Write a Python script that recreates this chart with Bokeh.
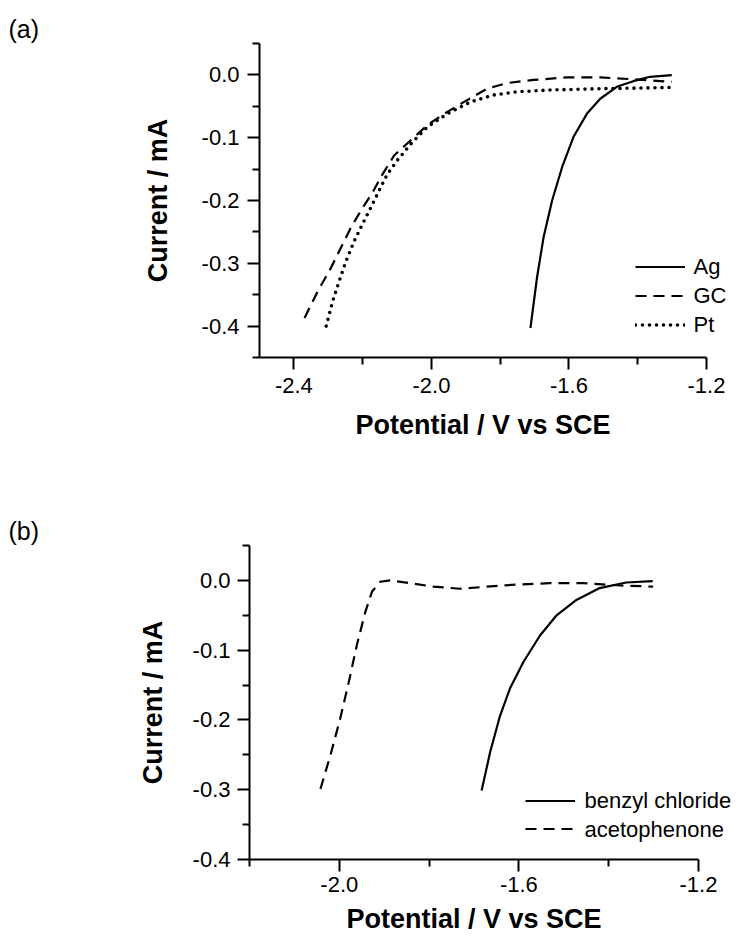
from bokeh.plotting import figure
from bokeh.models import Range1d, FixedTicker, Legend, LegendItem, LinearAxis
from bokeh.embed import file_html
from bokeh.resources import INLINE

FONT = "Liberation Sans"

# ---------------- Panel (a) data ----------------
ag_x = [-1.712, -1.693, -1.674, -1.649, -1.620, -1.587, -1.548, -1.509, -1.461, -1.413, -1.364, -1.301]
ag_y = [-0.403, -0.323, -0.259, -0.200, -0.147, -0.099, -0.062, -0.038, -0.019, -0.010, -0.003, -0.0005]

gc_x = [-2.369, -2.330, -2.292, -2.263, -2.234, -2.205, -2.171, -2.142, -2.108, -2.060, -2.012,
        -1.963, -1.905, -1.838, -1.780, -1.703, -1.606, -1.509, -1.413, -1.301]
gc_y = [-0.387, -0.344, -0.307, -0.275, -0.243, -0.216, -0.187, -0.158, -0.128, -0.104, -0.080,
        -0.062, -0.043, -0.022, -0.013, -0.008, -0.004, -0.004, -0.007, -0.011]

pt_x = [-2.306, -2.287, -2.268, -2.248, -2.224, -2.200, -2.176, -2.152, -2.128, -2.099, -2.060,
        -2.012, -1.954, -1.886, -1.819, -1.751, -1.654, -1.509, -1.297]
pt_y = [-0.400, -0.360, -0.328, -0.296, -0.264, -0.237, -0.211, -0.184, -0.158, -0.136, -0.110,
        -0.083, -0.062, -0.043, -0.032, -0.027, -0.024, -0.022, -0.020]

a_series = ["Ag", "GC", "Pt"]
a_xticks = [-2.4, -2.0, -1.6, -1.2]
a_xlabels = ["-2.4", "-2.0", "-1.6", "-1.2"]
a_xminor = [-2.2, -1.8, -1.4]
a_yticks = [0.0, -0.1, -0.2, -0.3, -0.4]
a_ylabels = ["0.0", "-0.1", "-0.2", "-0.3", "-0.4"]
a_yminor = [0.05, -0.05, -0.15, -0.25, -0.35, -0.45]

# ---------------- Panel (b) data ----------------
bc_x = [-1.683, -1.664, -1.642, -1.620, -1.590, -1.553, -1.516, -1.472, -1.420, -1.361, -1.302]
bc_y = [-0.301, -0.246, -0.194, -0.155, -0.117, -0.079, -0.050, -0.028, -0.011, -0.003, -0.001]

ac_x = [-2.042, -2.020, -1.998, -1.979, -1.961, -1.942, -1.927, -1.909, -1.887, -1.842, -1.790,
        -1.731, -1.672, -1.605, -1.531, -1.457, -1.383, -1.301]
ac_y = [-0.299, -0.251, -0.198, -0.146, -0.093, -0.045, -0.016, -0.002, 0.000, -0.004, -0.009,
        -0.012, -0.009, -0.006, -0.004, -0.004, -0.007, -0.009]

b_series = ["benzyl chloride", "acetophenone"]
b_xticks = [-2.0, -1.6, -1.2]
b_xlabels = ["-2.0", "-1.6", "-1.2"]
b_xminor = [-2.2, -1.8, -1.4]
b_yticks = [0.0, -0.1, -0.2, -0.3, -0.4]
b_ylabels = ["0.0", "-0.1", "-0.2", "-0.3", "-0.4"]
b_yminor = [0.05, -0.05, -0.15, -0.25, -0.35]

X_TITLE = "Potential / V vs SCE"
Y_TITLE = "Current / mA"

# legend-row anchor positions (layout only, in the panel's y units)
A_LEG_ROWS = [-0.3050, -0.3510, -0.3970]
B_LEG_ROWS = [-0.3157, -0.3563]


def style_axes(p, xticks, xlabels, xminor, yticks, ylabels, yminor,
               x_std, x_lab_std, y_std, y_lab_std):
    p.xgrid.visible = False
    p.ygrid.visible = False
    p.outline_line_color = None
    p.background_fill_color = "white"
    p.border_fill_color = "white"
    p.xaxis.ticker = FixedTicker(ticks=xticks, minor_ticks=xminor)
    p.yaxis.ticker = FixedTicker(ticks=yticks, minor_ticks=yminor)
    p.xaxis.major_label_overrides = dict(zip(xticks, xlabels))
    p.yaxis.major_label_overrides = dict(zip(yticks, ylabels))
    for ax in (p.xaxis, p.yaxis):
        ax.axis_line_width = 2
        ax.axis_line_color = "black"
        ax.major_tick_line_width = 2
        ax.minor_tick_line_width = 2
        ax.major_tick_line_color = "black"
        ax.minor_tick_line_color = "black"
        ax.major_tick_out = 12
        ax.major_tick_in = 0
        ax.minor_tick_out = 7
        ax.minor_tick_in = 0
        ax.major_label_text_font = FONT
        ax.major_label_text_font_size = "22px"
        ax.major_label_text_color = "black"
        ax.axis_label_text_font = FONT
        ax.axis_label_text_font_style = "bold"
        ax.axis_label_text_font_size = "27px"
        ax.axis_label_text_color = "black"
    p.xaxis.axis_label = X_TITLE
    p.yaxis.axis_label = Y_TITLE
    p.xaxis.major_label_standoff = x_std
    p.xaxis.axis_label_standoff = x_lab_std
    p.yaxis.major_label_standoff = y_std
    p.yaxis.axis_label_standoff = y_lab_std


def add_legend(p, renderers, names, rows, loc, spacing, text_standoff):
    # line samples through a Legend
    leg = Legend(items=[LegendItem(label=" ", renderers=[r]) for r in renderers], location=loc)
    leg.background_fill_alpha = 0
    leg.border_line_alpha = 0
    leg.padding = 0
    leg.margin = 0
    leg.spacing = spacing
    leg.label_standoff = 0
    leg.glyph_width = 50
    leg.glyph_height = 25
    leg.label_height = 25
    leg.label_width = 1
    leg.label_text_font_size = "22px"
    p.add_layout(leg)
    # legend names as labels of a bare right-hand axis (drawn outside the frame clip)
    ax = LinearAxis(ticker=FixedTicker(ticks=rows, minor_ticks=[]),
                    major_label_overrides=dict(zip(rows, names)))
    ax.axis_line_color = None
    ax.major_tick_line_color = None
    ax.minor_tick_line_color = None
    ax.major_tick_out = 0
    ax.major_tick_in = 0
    ax.minor_tick_out = 0
    ax.minor_tick_in = 0
    ax.major_label_standoff = text_standoff
    ax.major_label_text_font = FONT
    ax.major_label_text_font_size = "22px"
    ax.major_label_text_color = "black"
    p.add_layout(ax, "right")


def panel_tag(p, text, offset, standoff):
    p.title.text = text
    p.title.align = "left"
    p.title.offset = offset
    p.title.standoff = standoff
    p.title.text_font = FONT
    p.title.text_font_style = "normal"
    p.title.text_font_size = "25px"
    p.title.text_color = "black"


W = 740

# ---------------- figure (a) ----------------
pa = figure(width=W, height=457, output_backend="svg", toolbar_location=None,
            x_range=Range1d(-2.5, -1.2), y_range=Range1d(-0.45, 0.05),
            min_border_left=259, min_border_right=34, min_border_top=43, min_border_bottom=100)
style_axes(pa, a_xticks, a_xlabels, a_xminor, a_yticks, a_ylabels, a_yminor, 8, 14, 8, 26)

r_ag = pa.line(ag_x, ag_y, line_color="black", line_width=2.2)
r_gc = pa.line(gc_x, gc_y, line_color="black", line_width=2.2, line_dash="11 7")
r_pt = pa.line(pt_x, pt_y, line_color="black", line_width=3.6, line_dash="0 7", line_cap="round")
add_legend(pa, [r_ag, r_gc, r_pt], a_series, A_LEG_ROWS, (376, 20), 4, -13)
panel_tag(pa, "(a)", -251, 2)

# ---------------- figure (b) ----------------
pb = figure(width=W, height=486, output_backend="svg", toolbar_location=None,
            x_range=Range1d(-2.2, -1.2), y_range=Range1d(-0.4, 0.05),
            min_border_left=249, min_border_right=42, min_border_top=88, min_border_bottom=84)
style_axes(pb, b_xticks, b_xlabels, b_xminor, b_yticks, b_ylabels, b_yminor, 5, 9, 7, 22)

r_bc = pb.line(bc_x, bc_y, line_color="black", line_width=2.2)
r_ac = pb.line(ac_x, ac_y, line_color="black", line_width=2.2, line_dash="11 7")
add_legend(pb, [r_bc, r_ac], b_series, B_LEG_ROWS, (276, 18), 3, -114)
panel_tag(pb, "(b)", -241, 2)

open("out.html", "w").write(file_html([pa, pb], INLINE))
